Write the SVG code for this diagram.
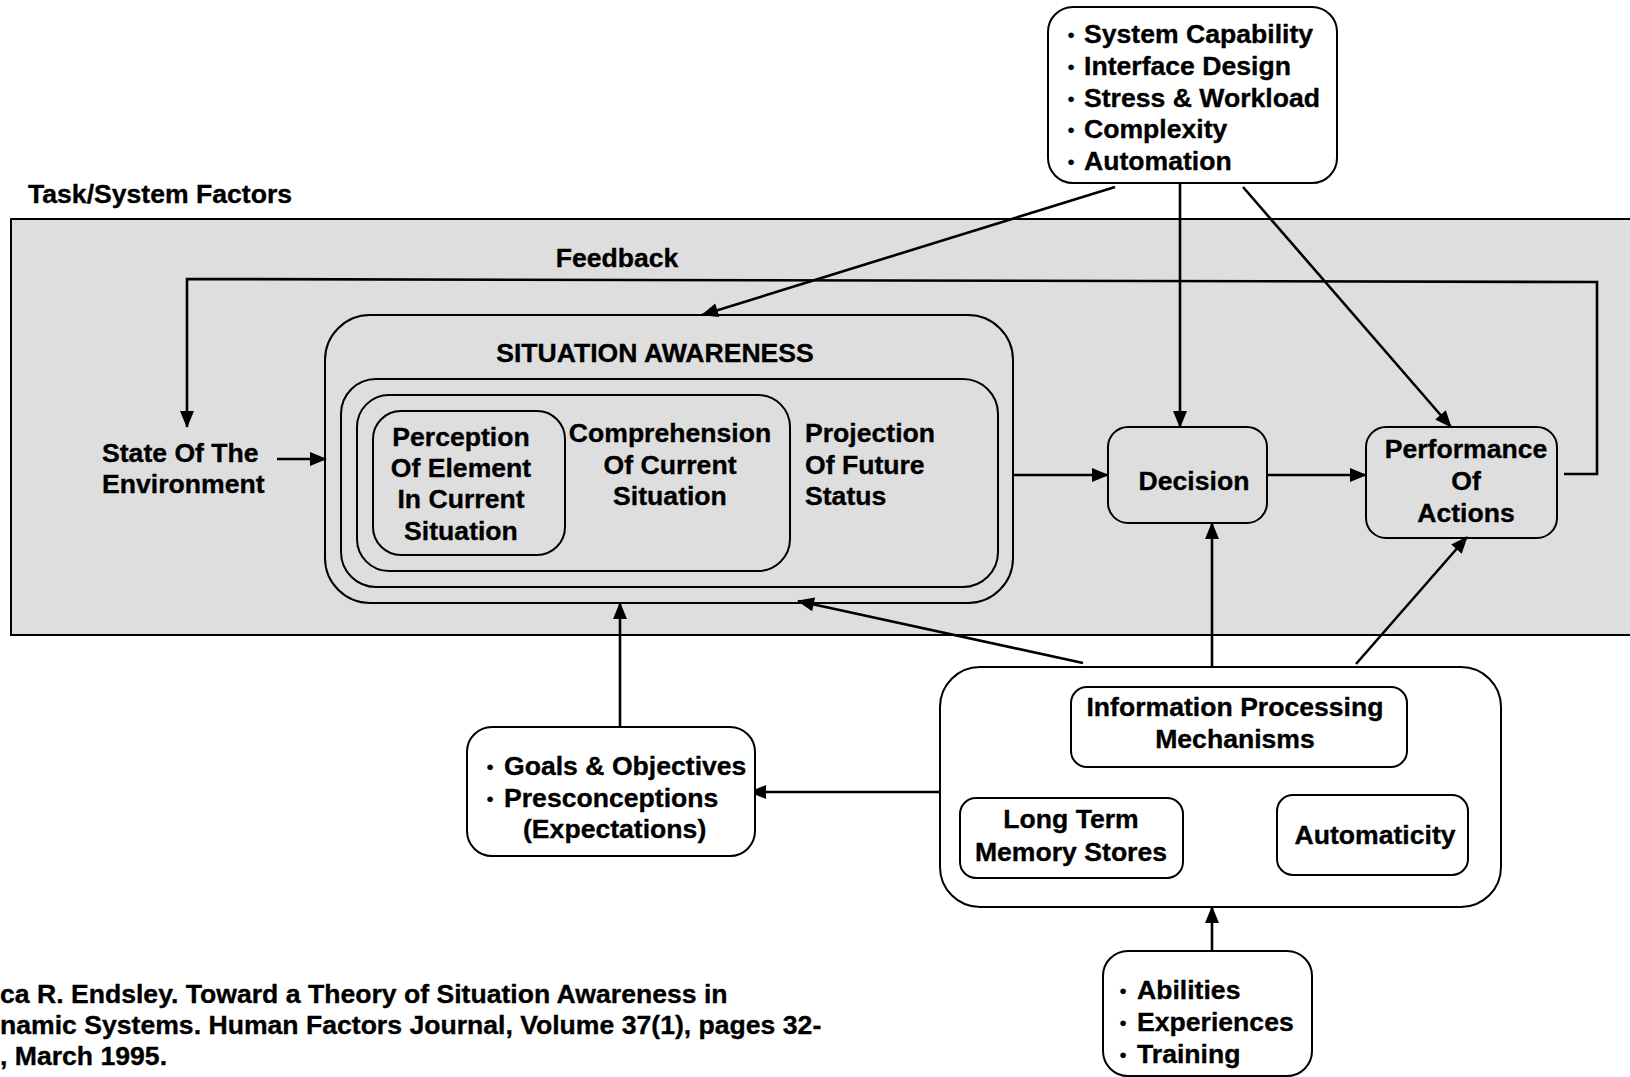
<svg xmlns="http://www.w3.org/2000/svg" width="1630" height="1077" viewBox="0 0 1630 1077">
  <style>
    text { font-family: "Liberation Sans", Arial, Helvetica, sans-serif; font-weight: bold; font-size: 26.6px; fill: #000; stroke: #000; stroke-width: 0.35px; }
    .c { text-anchor: middle; }
    .b { text-anchor: middle; font-size: 19px; }
    .box { fill: none; stroke: #000; stroke-width: 2; }
    .wbox { fill: #fff; stroke: #000; stroke-width: 2; }
    .ln { fill: none; stroke: #000; stroke-width: 2.6; }
    .arr { marker-end: url(#head); }
  </style>
  <defs>
    <marker id="head" markerUnits="userSpaceOnUse" markerWidth="18" markerHeight="14" viewBox="0 0 17 14" refX="16" refY="7" orient="auto">
      <path d="M0,0 L17,7 L0,14 z" fill="#000"/>
    </marker>
  </defs>

  <rect width="1630" height="1077" fill="#fff"/>

  <!-- task / system frame -->
  <g id="task-system-frame">
    <rect x="11" y="219" width="1640" height="416" fill="#dedede" stroke="#000" stroke-width="2"/>
    <text x="28" y="203">Task/System Factors</text>
    <text class="c" x="617" y="267">Feedback</text>
  </g>

  <!-- connectors -->
  <g id="connectors">
    <polyline class="ln arr" points="1564,474 1597,474 1597,282 187,279 187,427"/>
    <line class="ln arr" x1="277" y1="459" x2="326" y2="459"/>
    <line class="ln arr" x1="1115" y1="187" x2="702" y2="315"/>
    <line class="ln arr" x1="1180" y1="183" x2="1180" y2="427"/>
    <line class="ln arr" x1="1243" y1="187" x2="1451" y2="427"/>
    <line class="ln arr" x1="1014" y1="475" x2="1108" y2="475"/>
    <line class="ln arr" x1="1268" y1="475" x2="1366" y2="475"/>
    <line class="ln arr" x1="1212" y1="667" x2="1212" y2="523"/>
    <line class="ln arr" x1="1356" y1="664" x2="1467" y2="537"/>
    <line class="ln arr" x1="1083" y1="663" x2="798" y2="601"/>
    <line class="ln arr" x1="940" y1="792" x2="750" y2="792"/>
    <line class="ln arr" x1="620" y1="727" x2="620" y2="603"/>
    <line class="ln arr" x1="1212" y1="951" x2="1212" y2="907"/>
  </g>

  <g id="task-factors">
    <rect class="wbox" x="1048" y="7" width="289" height="176" rx="25"/>
    <text class="b" x="1071" y="41">•</text><text x="1084" y="43">System Capability</text>
    <text class="b" x="1071" y="73">•</text><text x="1084" y="75">Interface Design</text>
    <text class="b" x="1071" y="105">•</text><text x="1084" y="107">Stress &amp; Workload</text>
    <text class="b" x="1071" y="136">•</text><text x="1084" y="138">Complexity</text>
    <text class="b" x="1071" y="168">•</text><text x="1084" y="170">Automation</text>
  </g>

  <g id="state-environment">
    <text x="102" y="462">State Of The</text>
    <text x="102" y="493">Environment</text>
  </g>

  <g id="situation-awareness">
    <rect class="box" x="325" y="315" width="688" height="288" rx="45"/>
    <text class="c" x="655" y="362">SITUATION AWARENESS</text>
  </g>

  <g id="level3-projection">
    <rect class="box" x="341" y="379" width="657" height="208" rx="35"/>
    <text x="805" y="442">Projection</text>
    <text x="805" y="474">Of Future</text>
    <text x="805" y="505">Status</text>
  </g>

  <g id="level2-comprehension">
    <rect class="box" x="357" y="395" width="433" height="176" rx="32"/>
    <text class="c" x="670" y="442">Comprehension</text>
    <text class="c" x="670" y="474">Of Current</text>
    <text class="c" x="670" y="505">Situation</text>
  </g>

  <g id="level1-perception">
    <rect class="box" x="373" y="411" width="192" height="144" rx="28"/>
    <text class="c" x="461" y="446">Perception</text>
    <text class="c" x="461" y="477">Of Element</text>
    <text class="c" x="461" y="508">In Current</text>
    <text class="c" x="461" y="540">Situation</text>
  </g>

  <g id="decision">
    <rect class="box" x="1108" y="427" width="159" height="96" rx="20"/>
    <text class="c" x="1194" y="490">Decision</text>
  </g>

  <g id="performance">
    <rect class="box" x="1366" y="427" width="191" height="111" rx="20"/>
    <text class="c" x="1466" y="458">Performance</text>
    <text class="c" x="1466" y="490">Of</text>
    <text class="c" x="1466" y="522">Actions</text>
  </g>

  <g id="goals">
    <rect class="wbox" x="467" y="727" width="288" height="129" rx="25"/>
    <text class="b" x="490" y="773">•</text><text x="504" y="775">Goals &amp; Objectives</text>
    <text class="b" x="490" y="805">•</text><text x="504" y="807">Presconceptions</text>
    <text x="523" y="838">(Expectations)</text>
  </g>

  <g id="individual-factors">
    <rect class="wbox" x="940" y="667" width="561" height="240" rx="40"/>
  </g>

  <g id="info-processing">
    <rect class="box" x="1071" y="687" width="336" height="80" rx="16"/>
    <text class="c" x="1235" y="716">Information Processing</text>
    <text class="c" x="1235" y="748">Mechanisms</text>
  </g>

  <g id="long-term-memory">
    <rect class="box" x="960" y="798" width="223" height="80" rx="16"/>
    <text class="c" x="1071" y="828">Long Term</text>
    <text class="c" x="1071" y="861">Memory Stores</text>
  </g>

  <g id="automaticity">
    <rect class="box" x="1277" y="795" width="191" height="80" rx="16"/>
    <text class="c" x="1375" y="844">Automaticity</text>
  </g>

  <g id="abilities">
    <rect class="wbox" x="1103" y="951" width="209" height="125" rx="25"/>
    <text class="b" x="1123" y="997">•</text><text x="1137" y="999">Abilities</text>
    <text class="b" x="1123" y="1029">•</text><text x="1137" y="1031">Experiences</text>
    <text class="b" x="1123" y="1061">•</text><text x="1137" y="1063">Training</text>
  </g>

  <g id="citation">
    <text x="0" y="1003">ca R. Endsley. Toward a Theory of Situation Awareness in</text>
    <text x="0" y="1034">namic Systems. Human Factors Journal, Volume 37(1), pages 32-</text>
    <text x="0" y="1065">, March 1995.</text>
  </g>
</svg>
